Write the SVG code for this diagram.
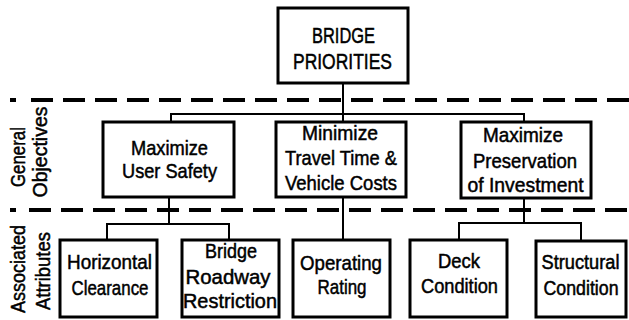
<svg xmlns="http://www.w3.org/2000/svg" width="629" height="320" viewBox="0 0 629 320">
<style>
.box{fill:#fff;stroke:#000;stroke-width:3}
.con{fill:none;stroke:#000;stroke-width:2}
.dash{fill:none;stroke:#000;stroke-width:4;stroke-dasharray:22 10}
text{font-family:"Liberation Sans",Arial,sans-serif;font-size:21px;fill:#000;stroke:#000;stroke-width:0.5;text-anchor:middle}
.big{font-size:22px}
.sm{font-size:19.5px}
</style>
<rect width="629" height="320" fill="#fff"/>
<g id="separators">
<line class="dash" x1="10" y1="100" x2="16" y2="100" style="stroke-dasharray:none"/>
<line class="dash" x1="31" y1="100" x2="629" y2="100"/>
<line class="dash" x1="10" y1="210" x2="16" y2="210" style="stroke-dasharray:none"/>
<line class="dash" x1="29" y1="210" x2="629" y2="210"/>
</g>
<g id="labels">
<text transform="translate(25,157) rotate(-90)" textLength="60" lengthAdjust="spacingAndGlyphs">General</text>
<text transform="translate(47,152) rotate(-90)" textLength="91" lengthAdjust="spacingAndGlyphs">Objectives</text>
<text transform="translate(25,269) rotate(-90)" textLength="88" lengthAdjust="spacingAndGlyphs">Associated</text>
<text transform="translate(50,271) rotate(-90)" textLength="78" lengthAdjust="spacingAndGlyphs">Attributes</text>
</g>
<g id="connectors">
<path class="con" d="M343,83 V122 M171,122 V114 H524 V122"/>
<path class="con" d="M169,197 V224 M107,240 V224 H229 V240"/>
<path class="con" d="M343,197 V240"/>
<path class="con" d="M524,198 V223 M459,240 V223 H581 V241"/>
</g>
<g id="bridge-priorities">
<rect class="box" x="278" y="8" width="130" height="75"/>
<text class="big" x="343.5" y="43" textLength="63" lengthAdjust="spacingAndGlyphs">BRIDGE</text>
<text class="big" x="342.5" y="69" textLength="99" lengthAdjust="spacingAndGlyphs">PRIORITIES</text>
</g>
<g id="user-safety">
<rect class="box" x="103" y="122" width="131" height="75"/>
<text x="169.5" y="155" textLength="77" lengthAdjust="spacingAndGlyphs">Maximize</text>
<text x="169.5" y="178" textLength="95" lengthAdjust="spacingAndGlyphs">User Safety</text>
</g>
<g id="travel-time">
<rect class="box" x="276" y="122" width="130" height="75"/>
<text x="340" y="140" textLength="76" lengthAdjust="spacingAndGlyphs">Minimize</text>
<text x="341" y="165" textLength="112" lengthAdjust="spacingAndGlyphs">Travel Time &amp;</text>
<text x="341" y="190" textLength="112" lengthAdjust="spacingAndGlyphs">Vehicle Costs</text>
</g>
<g id="preservation">
<rect class="box" x="461" y="122" width="130" height="76"/>
<text x="523" y="142" textLength="80" lengthAdjust="spacingAndGlyphs">Maximize</text>
<text x="525" y="168" textLength="104" lengthAdjust="spacingAndGlyphs">Preservation</text>
<text x="525.5" y="192" textLength="116" lengthAdjust="spacingAndGlyphs">of Investment</text>
</g>
<g id="horizontal-clearance">
<rect class="box" x="60" y="240" width="97" height="77"/>
<text x="109.5" y="269" textLength="85" lengthAdjust="spacingAndGlyphs">Horizontal</text>
<text x="110" y="295" textLength="77" lengthAdjust="spacingAndGlyphs">Clearance</text>
</g>
<g id="roadway-restriction">
<rect class="box" x="182" y="240" width="97" height="77"/>
<text x="231" y="258" textLength="52" lengthAdjust="spacingAndGlyphs">Bridge</text>
<text x="228" y="284" textLength="85" lengthAdjust="spacingAndGlyphs">Roadway</text>
<text x="230" y="308" textLength="94" lengthAdjust="spacingAndGlyphs">Restriction</text>
</g>
<g id="operating-rating">
<rect class="box" x="293" y="240" width="97" height="77"/>
<text x="341" y="270" textLength="82" lengthAdjust="spacingAndGlyphs">Operating</text>
<text x="342" y="294" textLength="49" lengthAdjust="spacingAndGlyphs">Rating</text>
</g>
<g id="deck-condition">
<rect class="box" x="410" y="240" width="97" height="77"/>
<text x="459" y="268" textLength="42" lengthAdjust="spacingAndGlyphs">Deck</text>
<text x="459.5" y="293" textLength="77" lengthAdjust="spacingAndGlyphs">Condition</text>
</g>
<g id="structural-condition">
<rect class="box" x="536" y="241" width="90" height="76"/>
<text class="sm" x="580.5" y="269" textLength="78" lengthAdjust="spacingAndGlyphs">Structural</text>
<text class="sm" x="581" y="295" textLength="75" lengthAdjust="spacingAndGlyphs">Condition</text>
</g>
</svg>
